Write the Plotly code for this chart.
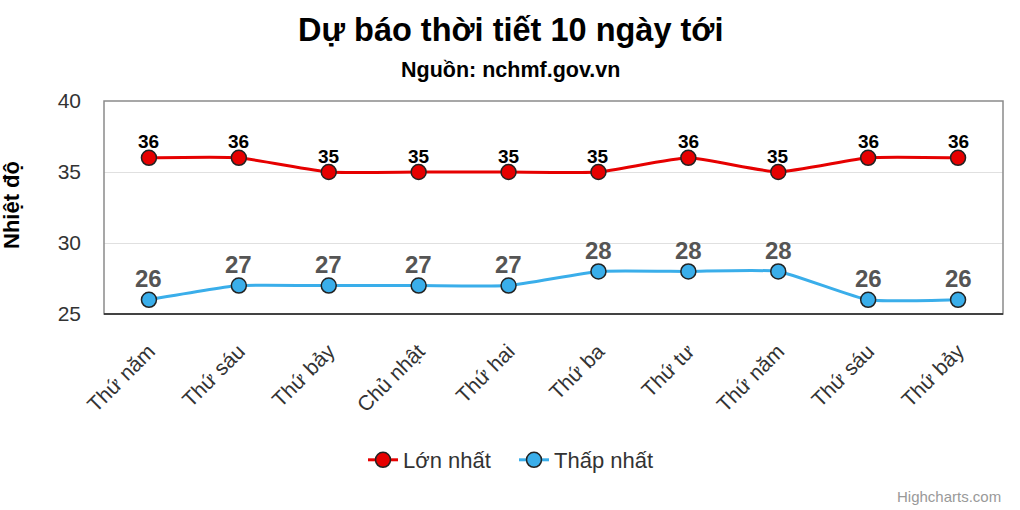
import plotly.graph_objects as go

days = ["Thứ năm", "Thứ sáu", "Thứ bảy", "Chủ nhật", "Thứ hai", "Thứ ba", "Thứ tư", "Thứ năm", "Thứ sáu", "Thứ bảy"]
max_temp = [36, 36, 35, 35, 35, 35, 36, 35, 36, 36]
min_temp = [26, 27, 27, 27, 27, 28, 28, 28, 26, 26]

xs = list(range(len(days)))
FONT = "Liberation Sans, Arial, sans-serif"

L, R, T, B = 104, 17, 101, 196
W, H = 1020, 510
pw, ph = W - L - R, H - T - B

def px_x(p):
    return (p - L) / pw

def px_y(p):
    return (H - B - p) / ph

RED, BLUE = "#e60000", "#3aaeea"

fig = go.Figure()
fig.add_trace(go.Scatter(
    x=xs, y=max_temp, name="Lớn nhất", mode="lines+markers",
    line=dict(color=RED, width=3, shape="spline", smoothing=0.45),
    marker=dict(size=15, color=RED, line=dict(color="#222", width=1.5)),
    cliponaxis=False,
))
fig.add_trace(go.Scatter(
    x=xs, y=min_temp, name="Thấp nhất", mode="lines+markers",
    line=dict(color=BLUE, width=3, shape="spline", smoothing=0.45),
    marker=dict(size=15, color=BLUE, line=dict(color="#222", width=1.5)),
    cliponaxis=False,
))

annotations = []
for x, v in zip(xs, max_temp):
    annotations.append(dict(x=x, y=v, xref="x", yref="y", text=f"<b>{v}</b>", showarrow=False,
                            yshift=16, xanchor="center", yanchor="middle",
                            font=dict(family=FONT, size=19, color="#000")))
for x, v in zip(xs, min_temp):
    annotations.append(dict(x=x, y=v, xref="x", yref="y", text=f"<b>{v}</b>", showarrow=False,
                            yshift=21, xanchor="center", yanchor="middle",
                            font=dict(family=FONT, size=24, color="#555")))

annotations += [
    dict(text="<b>Dự báo thời tiết 10 ngày tới</b>", xref="paper", yref="paper",
         x=px_x(510), y=px_y(30), xanchor="center", yanchor="middle", showarrow=False,
         font=dict(size=32.5, color="#000", family=FONT)),
    dict(text="<b>Nguồn: nchmf.gov.vn</b>", xref="paper", yref="paper",
         x=px_x(510), y=px_y(70), xanchor="center", yanchor="middle", showarrow=False,
         font=dict(size=21.5, color="#000", family=FONT)),
    dict(text="<b>Nhiệt độ</b>", xref="paper", yref="paper", textangle=-90,
         x=px_x(11), y=px_y(205), xanchor="center", yanchor="middle", showarrow=False,
         font=dict(size=22, color="#000", family=FONT)),
    dict(text="Highcharts.com", xref="paper", yref="paper",
         x=px_x(1003), y=px_y(496), xanchor="right", yanchor="middle", showarrow=False,
         font=dict(size=15, color="#999", family=FONT)),
]

fig.update_layout(
    width=W, height=H,
    margin=dict(l=L, r=R, t=T, b=B),
    paper_bgcolor="white", plot_bgcolor="white",
    font=dict(family=FONT, color="#333"),
    showlegend=True,
    legend=dict(orientation="h", x=px_x(514), xanchor="center", y=px_y(460), yanchor="middle",
                font=dict(size=22, color="#333", family=FONT), itemwidth=30, entrywidth=106),
    xaxis=dict(
        range=[-0.5, len(days) - 0.5],
        tickmode="array", tickvals=xs, ticktext=days, tickangle=-45,
        tickfont=dict(size=21, color="#333", family=FONT),
        showgrid=False, zeroline=False, showline=False, ticks="",
        ticklabelstandoff=20,
    ),
    yaxis=dict(
        range=[25, 40], tickvals=[25, 30, 35, 40],
        tickfont=dict(size=21, color="#333", family=FONT),
        showgrid=True, gridcolor="#e0e0e0", gridwidth=1,
        zeroline=False, showline=False, ticks="", ticklabelstandoff=22,
    ),
    shapes=[dict(type="rect", xref="paper", yref="paper", x0=0, x1=1, y0=0, y1=1,
                 line=dict(color="#8a8a8a", width=1.5), layer="above"),
            dict(type="line", xref="paper", yref="paper", x0=0, x1=1, y0=0, y1=0,
                 line=dict(color="#222", width=1.5), layer="above")],
    annotations=annotations,
)

fig.write_html("out.html")
